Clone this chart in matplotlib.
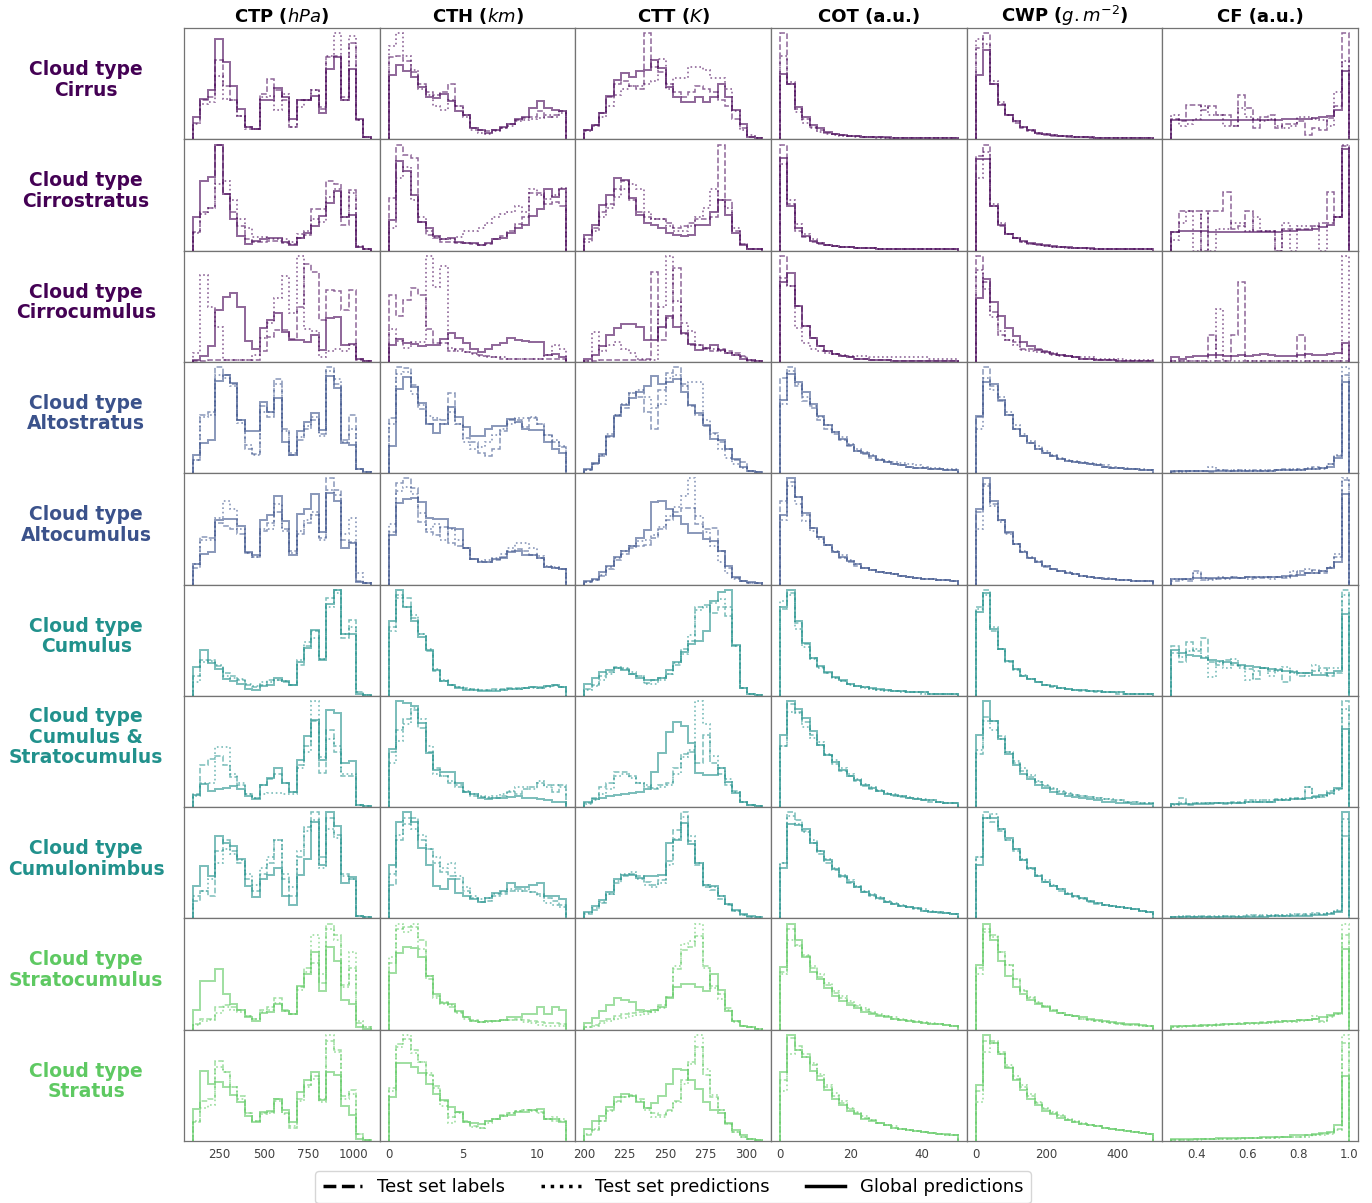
import numpy as np
import matplotlib
matplotlib.use('Agg')
import matplotlib.pyplot as plt
from matplotlib.lines import Line2D

# ---------------- layout / categories ----------------
row_keys = ['ci', 'cs', 'cc', 'ast', 'ac', 'cu', 'cusc', 'cb', 'sc', 'st']
row_names = ['Cirrus', 'Cirrostratus', 'Cirrocumulus', 'Altostratus', 'Altocumulus',
             'Cumulus', 'Cumulus &\nStratocumulus', 'Cumulonimbus', 'Stratocumulus', 'Stratus']
row_cmap_pos = [0.0, 0.0, 0.0, 0.25, 0.25, 0.5, 0.5, 0.5, 0.75, 0.75]
col_keys = ['ctp', 'cth', 'ctt', 'cot', 'cwp', 'cf']
col_titles = [r'CTP ($hPa$)', r'CTH ($km$)', r'CTT ($K$)', 'COT (a.u.)',
              r'CWP ($g.m^{-2}$)', 'CF (a.u.)']
col_ranges = [(100, 1100), (0, 12), (200, 310), (0, 50), (0, 500), (0.3, 1.0)]
col_ticks = [[250, 500, 750, 1000], [0, 5, 10], [200, 225, 250, 275, 300],
             [0, 20, 40], [0, 200, 400], [0.4, 0.6, 0.8, 1.0]]
n_bins = 24
legend_labels = ['Test set labels', 'Test set predictions', 'Global predictions']

# ---------------- histogram heights (relative, per panel) ----------------
# Cirrus
ci_ctp_lab = [15, 35, 38, 71, 48, 35, 21, 11, 9, 41, 54, 44, 35, 11, 35, 35, 44, 27, 74, 75, 38, 86, 17, 2]
ci_ctp_pred = [14, 32, 33, 57, 36, 35, 21, 9, 9, 38, 39, 26, 41, 11, 29, 35, 44, 29, 75, 95, 35, 93, 17, 2]
ci_ctp_glob = [20, 36, 44, 90, 69, 48, 27, 11, 9, 35, 35, 46, 38, 18, 35, 35, 39, 24, 63, 74, 35, 63, 18, 2]
ci_cth_lab = [74, 75, 70, 60, 50, 42, 40, 42, 50, 30, 22, 10, 8, 7, 8, 10, 14, 17, 19, 20, 25, 20, 22, 25]
ci_cth_pred = [84, 95, 75, 62, 45, 40, 30, 26, 35, 30, 20, 8, 6, 5, 7, 10, 12, 16, 17, 18, 19, 22, 20, 24]
ci_cth_glob = [58, 67, 61, 56, 47, 38, 37, 41, 34, 25, 22, 10, 8, 6, 8, 11, 14, 18, 20, 28, 34, 28, 26, 25]
ci_ctt_lab = [8, 13, 24, 38, 50, 52, 48, 45, 95, 65, 60, 50, 42, 38, 42, 48, 45, 42, 35, 30, 18, 10, 2, 1]
ci_ctt_pred = [7, 12, 20, 30, 40, 45, 48, 48, 50, 52, 72, 45, 55, 55, 65, 65, 62, 55, 55, 45, 25, 8, 4, 1]
ci_ctt_glob = [8, 13, 24, 39, 53, 59, 56, 61, 62, 71, 64, 47, 38, 33, 33, 38, 33, 38, 50, 38, 26, 14, 2, 1]
ci_cot_lab = [96, 50, 27, 18, 11, 8, 6, 5, 4, 3, 3, 2, 2, 2, 1, 1, 1, 1, 1, 1, 1, 1, 1, 1]
ci_cot_pred = [75, 52, 25, 15, 10, 7, 5, 4, 3, 3, 2, 2, 2, 1, 1, 1, 1, 1, 1, 1, 1, 1, 1, 1]
ci_cot_glob = [59, 50, 29, 20, 13, 10, 7, 5, 4, 3, 3, 2, 2, 2, 2, 1, 1, 1, 1, 1, 1, 1, 1, 1]
ci_cwp_lab = [82, 95, 50, 32, 22, 15, 10, 7, 5, 4, 3, 3, 2, 2, 2, 1, 1, 1, 1, 1, 1, 1, 1, 1]
ci_cwp_pred = [90, 85, 52, 33, 22, 16, 11, 8, 6, 5, 4, 3, 3, 2, 2, 2, 1, 1, 1, 1, 1, 1, 1, 1]
ci_cwp_glob = [58, 80, 50, 31, 22, 16, 11, 8, 6, 5, 4, 3, 3, 2, 2, 2, 1, 1, 1, 1, 1, 1, 1, 1]
ci_cf_lab = [18, 16, 31, 31, 26, 30, 22, 22, 12, 40, 28, 10, 20, 22, 10, 14, 14, 16, 4, 10, 8, 19, 30, 95]
ci_cf_pred = [22, 12, 14, 18, 30, 22, 22, 12, 12, 28, 20, 18, 16, 18, 12, 10, 12, 20, 20, 18, 17, 12, 42, 70]
ci_cf_glob = [17, 17, 17, 17, 17, 17, 17, 17, 17, 17, 17, 17, 17, 17, 17, 18, 18, 18, 18, 19, 20, 21, 26, 61]
# Cirrostratus
cs_ctp_lab = [17, 35, 38, 95, 51, 35, 22, 10, 8, 8, 9, 9, 7, 6, 11, 14, 37, 37, 62, 60, 23, 54, 3, 1]
cs_ctp_pred = [16, 33, 38, 60, 62, 45, 28, 20, 12, 12, 10, 10, 10, 8, 15, 18, 28, 26, 48, 55, 30, 52, 4, 1]
cs_ctp_glob = [30, 62, 66, 95, 51, 28, 13, 6, 9, 10, 11, 11, 8, 5, 11, 16, 22, 31, 43, 53, 30, 32, 3, 1]
cs_cth_lab = [47, 95, 86, 83, 26, 14, 11, 8, 8, 7, 7, 6, 5, 6, 10, 13, 18, 24, 30, 52, 52, 42, 44, 40]
cs_cth_pred = [20, 65, 75, 45, 30, 18, 12, 10, 10, 12, 18, 18, 20, 25, 30, 33, 35, 40, 35, 55, 50, 46, 50, 56]
cs_cth_glob = [27, 80, 71, 50, 26, 20, 13, 10, 11, 8, 7, 7, 5, 7, 10, 11, 16, 20, 23, 31, 37, 55, 48, 55]
cs_ctt_lab = [10, 20, 35, 42, 55, 62, 45, 35, 30, 28, 28, 25, 20, 22, 25, 28, 28, 30, 95, 45, 18, 6, 1, 1]
cs_ctt_pred = [8, 18, 30, 38, 48, 55, 60, 55, 35, 28, 28, 22, 18, 18, 22, 30, 38, 55, 45, 38, 20, 6, 1, 1]
cs_ctt_glob = [14, 23, 41, 50, 65, 63, 47, 32, 25, 23, 20, 16, 14, 13, 14, 23, 23, 35, 45, 32, 16, 5, 1, 1]
cs_cot_lab = [95, 42, 18, 12, 8, 6, 5, 4, 3, 3, 2, 2, 2, 1, 1, 1, 1, 1, 1, 1, 1, 1, 1, 1]
cs_cot_pred = [78, 45, 24, 15, 10, 7, 5, 4, 3, 3, 2, 2, 2, 1, 1, 1, 1, 1, 1, 1, 1, 1, 1, 1]
cs_cot_glob = [83, 40, 20, 13, 9, 7, 5, 4, 3, 3, 2, 2, 2, 1, 1, 1, 1, 1, 1, 1, 1, 1, 1, 1]
cs_cwp_lab = [85, 95, 40, 22, 15, 11, 8, 6, 5, 4, 3, 3, 2, 2, 2, 1, 1, 1, 1, 1, 1, 1, 1, 1]
cs_cwp_pred = [65, 88, 42, 25, 15, 11, 8, 6, 5, 4, 3, 3, 2, 2, 2, 1, 1, 1, 1, 1, 1, 1, 1, 1]
cs_cwp_glob = [82, 82, 40, 23, 15, 11, 9, 7, 6, 5, 4, 3, 3, 2, 2, 2, 1, 1, 1, 1, 1, 1, 1, 1]
cs_cf_lab = [17, 36, 36, 36, 0, 36, 36, 53, 20, 22, 36, 18, 18, 18, 0, 20, 20, 20, 20, 22, 25, 53, 30, 95]
cs_cf_pred = [10, 25, 36, 0, 36, 0, 20, 20, 25, 25, 18, 30, 18, 18, 0, 25, 0, 22, 22, 22, 0, 25, 30, 96]
cs_cf_glob = [17, 18, 18, 18, 18, 17, 17, 17, 17, 17, 17, 17, 17, 17, 17, 18, 18, 19, 19, 20, 21, 23, 30, 92]
# Cirrocumulus
cc_ctp_lab = [1, 1, 2, 2, 2, 2, 2, 2, 2, 10, 23, 29, 29, 21, 50, 89, 81, 38, 65, 64, 47, 65, 3, 1]
cc_ctp_pred = [8, 79, 50, 32, 2, 2, 2, 2, 6, 22, 35, 58, 78, 44, 96, 30, 28, 4, 10, 12, 10, 15, 2, 1]
cc_ctp_glob = [2, 5, 14, 47, 59, 62, 50, 19, 12, 31, 38, 44, 27, 20, 20, 18, 24, 11, 40, 41, 15, 16, 3, 1]
cc_cth_lab = [61, 42, 56, 67, 61, 30, 17, 17, 10, 12, 9, 8, 6, 5, 4, 3, 3, 3, 3, 3, 3, 3, 3, 3]
cc_cth_pred = [30, 19, 13, 18, 18, 96, 68, 87, 13, 10, 9, 7, 5, 4, 4, 4, 3, 3, 3, 3, 3, 6, 15, 12]
cc_cth_glob = [15, 21, 17, 16, 14, 15, 15, 21, 26, 22, 17, 12, 9, 12, 15, 17, 22, 20, 19, 18, 18, 6, 7, 4]
cc_ctt_lab = [1, 1, 2, 2, 2, 2, 2, 2, 3, 81, 20, 40, 85, 25, 15, 15, 12, 10, 12, 10, 8, 5, 1, 1]
cc_ctt_pred = [1, 27, 10, 15, 18, 12, 8, 3, 2, 2, 50, 96, 55, 35, 28, 15, 13, 12, 10, 8, 6, 4, 2, 1]
cc_ctt_glob = [3, 6, 14, 24, 31, 34, 34, 32, 20, 20, 32, 42, 32, 26, 16, 11, 13, 15, 11, 8, 6, 3, 2, 1]
cc_cot_lab = [95, 68, 50, 32, 21, 14, 10, 7, 5, 4, 3, 3, 2, 2, 2, 1, 1, 1, 1, 1, 1, 1, 1, 1]
cc_cot_pred = [75, 68, 30, 17, 12, 10, 8, 7, 6, 5, 5, 5, 4, 4, 4, 4, 4, 4, 4, 4, 3, 3, 3, 3]
cc_cot_glob = [72, 80, 50, 32, 21, 14, 10, 7, 5, 4, 3, 3, 2, 2, 2, 1, 1, 1, 1, 1, 1, 1, 1, 1]
cc_cwp_lab = [95, 72, 45, 24, 20, 18, 12, 12, 12, 10, 8, 6, 5, 4, 3, 3, 2, 2, 2, 1, 1, 1, 1, 1]
cc_cwp_pred = [82, 65, 40, 28, 20, 15, 11, 10, 9, 8, 6, 5, 5, 4, 4, 4, 3, 3, 3, 3, 2, 2, 2, 2]
cc_cwp_glob = [57, 74, 54, 41, 30, 23, 18, 14, 11, 9, 7, 6, 5, 4, 3, 3, 2, 2, 2, 1, 1, 1, 1, 1]
cc_cf_lab = [1, 1, 1, 1, 1, 24, 1, 1, 24, 72, 1, 1, 1, 1, 1, 1, 1, 24, 1, 1, 1, 1, 1, 1]
cc_cf_pred = [1, 1, 1, 1, 1, 1, 48, 1, 1, 1, 1, 1, 1, 1, 1, 1, 1, 1, 1, 1, 1, 1, 1, 96]
cc_cf_glob = [4, 3, 4, 5, 5, 6, 6, 5, 5, 6, 5, 6, 7, 6, 5, 5, 5, 6, 7, 6, 6, 7, 8, 17]
# Altostratus
ast_ctp_lab = [12, 52, 55, 95, 88, 80, 48, 22, 17, 60, 50, 84, 40, 16, 30, 40, 48, 35, 95, 80, 30, 52, 4, 1]
ast_ctp_pred = [12, 50, 52, 88, 85, 78, 45, 25, 16, 55, 55, 80, 38, 18, 32, 42, 50, 33, 92, 84, 28, 40, 4, 1]
ast_ctp_glob = [16, 27, 30, 83, 88, 81, 48, 38, 38, 64, 55, 67, 28, 16, 38, 46, 54, 39, 87, 76, 27, 25, 4, 1]
ast_cth_lab = [50, 96, 95, 80, 58, 45, 48, 48, 73, 45, 32, 28, 18, 16, 22, 38, 48, 48, 42, 50, 45, 35, 28, 24]
ast_cth_pred = [45, 90, 92, 72, 62, 52, 50, 45, 55, 45, 28, 22, 24, 28, 35, 40, 45, 50, 50, 51, 45, 35, 30, 25]
ast_cth_glob = [25, 76, 87, 78, 64, 45, 36, 45, 60, 51, 42, 34, 34, 40, 43, 43, 49, 46, 40, 39, 39, 28, 22, 18]
ast_ctt_lab = [3, 8, 15, 32, 52, 58, 72, 68, 55, 40, 75, 90, 95, 80, 60, 52, 42, 36, 28, 22, 12, 10, 2, 1]
ast_ctt_pred = [3, 8, 16, 35, 52, 62, 72, 75, 68, 58, 62, 85, 88, 78, 82, 82, 48, 35, 22, 14, 8, 5, 2, 1]
ast_ctt_glob = [4, 9, 17, 33, 51, 61, 67, 73, 78, 87, 80, 82, 84, 73, 61, 54, 43, 31, 30, 22, 13, 6, 2, 1]
ast_cot_lab = [85, 95, 78, 65, 58, 48, 40, 35, 30, 24, 20, 17, 14, 12, 10, 8, 7, 6, 5, 5, 4, 4, 3, 3]
ast_cot_pred = [62, 92, 80, 68, 60, 50, 43, 37, 32, 26, 22, 19, 16, 13, 11, 10, 9, 8, 7, 6, 5, 5, 4, 4]
ast_cot_glob = [66, 89, 82, 73, 62, 51, 43, 37, 31, 25, 20, 18, 15, 12, 10, 8, 7, 6, 5, 5, 4, 4, 3, 3]
ast_cwp_lab = [50, 95, 78, 65, 52, 40, 33, 27, 22, 18, 15, 13, 11, 10, 9, 8, 7, 6, 5, 5, 4, 4, 3, 3]
ast_cwp_pred = [40, 85, 75, 68, 55, 43, 35, 29, 24, 20, 16, 14, 12, 11, 10, 9, 8, 7, 6, 5, 5, 4, 4, 3]
ast_cwp_glob = [51, 82, 80, 66, 52, 40, 33, 27, 22, 18, 15, 13, 11, 10, 9, 8, 7, 6, 5, 5, 4, 4, 3, 3]
ast_cf_lab = [1, 2, 2, 2, 2, 1, 3, 3, 2, 3, 2, 3, 2, 3, 3, 4, 3, 4, 4, 6, 5, 8, 15, 88]
ast_cf_pred = [2, 1, 2, 2, 2, 6, 3, 2, 3, 2, 3, 2, 3, 2, 3, 3, 4, 3, 5, 4, 4, 8, 16, 95]
ast_cf_glob = [2, 2, 2, 2, 2, 2, 2, 2, 2, 2, 2, 2, 2, 2, 3, 3, 3, 3, 4, 4, 5, 6, 14, 82]
# Altocumulus
ac_ctp_lab = [15, 43, 42, 55, 52, 50, 45, 28, 25, 48, 55, 65, 50, 30, 45, 55, 62, 42, 95, 85, 40, 38, 3, 1]
ac_ctp_pred = [18, 40, 40, 60, 75, 68, 50, 28, 25, 50, 50, 72, 48, 28, 48, 58, 65, 40, 85, 80, 45, 60, 10, 1]
ac_ctp_glob = [18, 27, 29, 58, 59, 59, 52, 29, 26, 58, 62, 79, 57, 26, 63, 68, 81, 47, 82, 75, 33, 37, 2, 1]
ac_cth_lab = [48, 92, 96, 87, 57, 48, 45, 52, 38, 35, 33, 23, 20, 20, 22, 25, 30, 32, 30, 27, 24, 16, 15, 14]
ac_cth_pred = [55, 85, 88, 82, 65, 50, 55, 40, 50, 40, 33, 23, 21, 22, 24, 28, 33, 38, 38, 33, 26, 17, 16, 14]
ac_cth_glob = [45, 74, 77, 78, 75, 60, 59, 59, 51, 50, 33, 23, 20, 20, 23, 24, 29, 30, 27, 27, 24, 16, 15, 14]
ac_ctt_lab = [2, 4, 8, 14, 22, 28, 33, 35, 36, 42, 50, 58, 66, 69, 69, 55, 50, 51, 30, 15, 6, 3, 1, 1]
ac_ctt_pred = [2, 4, 9, 16, 24, 30, 35, 39, 40, 45, 52, 62, 70, 80, 96, 62, 48, 35, 20, 10, 5, 3, 1, 1]
ac_ctt_glob = [3, 5, 11, 17, 25, 30, 35, 42, 49, 75, 76, 68, 62, 55, 47, 47, 41, 39, 30, 17, 7, 3, 2, 1]
ac_cot_lab = [75, 92, 78, 62, 51, 43, 35, 29, 24, 20, 17, 15, 13, 11, 10, 9, 8, 7, 6, 5, 5, 4, 4, 3]
ac_cot_pred = [58, 88, 72, 57, 48, 41, 35, 30, 26, 22, 18, 15, 13, 11, 10, 9, 8, 7, 6, 5, 5, 4, 4, 3]
ac_cot_glob = [62, 95, 78, 64, 51, 43, 35, 29, 25, 21, 18, 15, 13, 11, 10, 9, 8, 7, 6, 5, 5, 4, 4, 3]
ac_cwp_lab = [65, 90, 72, 58, 46, 36, 29, 24, 20, 16, 14, 12, 10, 9, 8, 7, 6, 5, 5, 4, 4, 3, 3, 3]
ac_cwp_pred = [50, 88, 70, 56, 45, 36, 30, 25, 21, 17, 14, 12, 11, 9, 8, 7, 6, 6, 5, 4, 4, 3, 3, 3]
ac_cwp_glob = [68, 95, 75, 58, 47, 36, 29, 24, 20, 17, 14, 12, 10, 9, 8, 7, 6, 5, 5, 4, 4, 3, 3, 3]
ac_cf_lab = [3, 5, 3, 12, 4, 5, 5, 6, 7, 6, 7, 6, 6, 7, 7, 6, 9, 12, 10, 13, 10, 15, 25, 95]
ac_cf_pred = [5, 4, 5, 10, 6, 4, 7, 5, 7, 6, 5, 7, 7, 5, 7, 7, 12, 10, 14, 10, 12, 16, 28, 96]
ac_cf_glob = [5, 5, 5, 6, 6, 6, 6, 6, 6, 6, 7, 7, 7, 7, 7, 8, 8, 9, 10, 10, 12, 15, 20, 82]
# Cumulus
cu_ctp_lab = [18, 32, 32, 27, 20, 18, 14, 10, 8, 10, 14, 14, 12, 10, 28, 45, 58, 33, 88, 95, 52, 68, 3, 1]
cu_ctp_pred = [12, 30, 31, 28, 18, 16, 15, 11, 9, 12, 12, 14, 13, 10, 32, 48, 52, 33, 80, 92, 55, 62, 3, 1]
cu_ctp_glob = [26, 41, 29, 24, 15, 13, 11, 6, 5, 9, 10, 16, 13, 10, 30, 43, 59, 32, 82, 95, 55, 55, 2, 1]
cu_cth_lab = [62, 90, 88, 70, 55, 40, 22, 13, 10, 8, 7, 6, 5, 5, 6, 6, 7, 7, 7, 8, 8, 9, 10, 8]
cu_cth_pred = [58, 88, 80, 72, 55, 42, 24, 14, 10, 8, 6, 5, 5, 5, 5, 5, 6, 6, 7, 7, 7, 8, 9, 8]
cu_cth_glob = [67, 95, 80, 67, 53, 41, 23, 13, 10, 7, 5, 5, 4, 4, 4, 5, 6, 6, 7, 8, 7, 9, 10, 8]
cu_ctt_lab = [6, 10, 18, 22, 26, 24, 20, 18, 12, 14, 16, 20, 28, 42, 50, 80, 82, 75, 80, 72, 45, 7, 2, 1]
cu_ctt_pred = [5, 9, 14, 20, 25, 25, 22, 18, 11, 11, 14, 20, 30, 38, 55, 78, 80, 84, 88, 80, 45, 7, 2, 1]
cu_ctt_glob = [11, 16, 22, 23, 25, 23, 20, 16, 14, 14, 16, 23, 31, 40, 47, 50, 59, 86, 94, 96, 46, 7, 2, 1]
cu_cot_lab = [78, 92, 65, 46, 34, 26, 20, 16, 13, 11, 9, 8, 6, 5, 5, 4, 4, 3, 3, 3, 2, 2, 2, 2]
cu_cot_pred = [85, 90, 60, 44, 33, 25, 20, 16, 13, 10, 9, 7, 6, 5, 4, 4, 3, 3, 3, 2, 2, 2, 2, 2]
cu_cot_glob = [80, 95, 67, 47, 34, 27, 21, 17, 14, 11, 9, 8, 7, 6, 5, 4, 4, 3, 3, 3, 2, 2, 2, 2]
cu_cwp_lab = [80, 95, 58, 42, 30, 23, 18, 15, 12, 10, 8, 7, 6, 5, 4, 4, 3, 3, 3, 2, 2, 2, 2, 2]
cu_cwp_pred = [78, 90, 62, 42, 31, 24, 19, 15, 12, 10, 9, 7, 6, 5, 5, 4, 4, 3, 3, 3, 2, 2, 2, 2]
cu_cwp_glob = [75, 92, 60, 42, 31, 24, 18, 15, 12, 10, 9, 7, 6, 5, 5, 4, 4, 3, 3, 3, 2, 2, 2, 2]
cu_cf_lab = [45, 30, 48, 40, 52, 30, 28, 32, 28, 27, 24, 15, 25, 22, 24, 12, 22, 18, 20, 22, 25, 18, 20, 95]
cu_cf_pred = [38, 35, 40, 42, 35, 17, 30, 25, 33, 25, 14, 22, 25, 18, 22, 26, 20, 20, 18, 28, 20, 25, 25, 90]
cu_cf_glob = [41, 38, 37, 36, 34, 32, 31, 30, 29, 28, 27, 26, 25, 24, 23, 22, 21, 20, 20, 19, 19, 20, 22, 73]
# Cumulus & Stratocumulus
cusc_ctp_lab = [12, 38, 44, 46, 38, 27, 20, 12, 8, 20, 25, 30, 22, 14, 38, 55, 78, 31, 70, 50, 28, 28, 2, 1]
cusc_ctp_pred = [10, 22, 22, 54, 54, 30, 22, 12, 8, 12, 13, 13, 12, 12, 35, 50, 96, 45, 62, 55, 30, 30, 2, 1]
cusc_ctp_glob = [11, 21, 15, 16, 17, 19, 16, 10, 7, 20, 26, 35, 22, 14, 43, 64, 79, 43, 88, 85, 40, 42, 2, 1]
cusc_cth_lab = [50, 70, 80, 88, 72, 50, 35, 28, 22, 18, 14, 10, 9, 8, 8, 10, 14, 12, 16, 18, 22, 20, 14, 20]
cusc_cth_pred = [40, 60, 75, 90, 80, 55, 30, 28, 24, 20, 15, 12, 10, 9, 10, 12, 15, 18, 18, 16, 24, 18, 20, 18]
cusc_cth_glob = [53, 96, 94, 92, 76, 49, 34, 32, 32, 22, 14, 12, 8, 7, 8, 8, 9, 10, 8, 8, 7, 6, 5, 5]
cusc_ctt_lab = [4, 8, 18, 22, 32, 32, 28, 22, 18, 16, 20, 22, 35, 48, 50, 40, 65, 40, 30, 20, 15, 5, 2, 1]
cusc_ctt_pred = [3, 6, 12, 16, 28, 30, 26, 22, 20, 17, 18, 20, 30, 45, 52, 96, 75, 46, 35, 25, 14, 5, 2, 1]
cusc_ctt_glob = [5, 7, 8, 10, 11, 12, 13, 14, 16, 32, 49, 68, 77, 73, 58, 31, 29, 29, 35, 23, 13, 5, 2, 1]
cusc_cot_lab = [55, 92, 85, 76, 65, 56, 47, 39, 32, 28, 23, 19, 16, 14, 12, 10, 9, 8, 7, 6, 5, 5, 4, 4]
cusc_cot_pred = [55, 85, 84, 72, 62, 58, 48, 42, 35, 30, 25, 21, 18, 15, 13, 12, 10, 9, 8, 7, 6, 5, 4, 4]
cusc_cot_glob = [65, 95, 88, 80, 68, 56, 47, 40, 33, 28, 24, 20, 17, 14, 12, 11, 10, 8, 7, 6, 6, 5, 4, 4]
cusc_cwp_lab = [48, 82, 78, 64, 50, 40, 33, 27, 23, 19, 16, 14, 12, 11, 10, 9, 8, 7, 6, 6, 5, 5, 4, 4]
cusc_cwp_pred = [52, 78, 70, 62, 50, 42, 35, 29, 24, 20, 17, 15, 13, 11, 10, 9, 8, 7, 7, 6, 5, 5, 4, 4]
cusc_cwp_glob = [65, 96, 78, 62, 48, 38, 30, 25, 20, 17, 14, 12, 10, 9, 8, 7, 6, 5, 5, 4, 4, 3, 3, 3]
cusc_cf_lab = [3, 8, 2, 4, 4, 3, 4, 3, 5, 4, 6, 5, 6, 5, 7, 6, 8, 7, 18, 10, 9, 14, 16, 95]
cusc_cf_pred = [2, 4, 3, 4, 4, 4, 4, 4, 4, 5, 5, 6, 5, 6, 6, 7, 7, 8, 18, 8, 10, 12, 15, 88]
cusc_cf_glob = [3, 3, 3, 3, 3, 4, 4, 4, 4, 4, 5, 5, 5, 5, 6, 6, 7, 7, 8, 9, 11, 13, 17, 70]
# Cumulonimbus
cb_ctp_lab = [16, 25, 20, 60, 70, 60, 50, 35, 25, 40, 50, 70, 35, 20, 55, 82, 95, 55, 90, 75, 40, 35, 2, 1]
cb_ctp_pred = [20, 25, 35, 50, 62, 58, 52, 40, 30, 45, 55, 70, 40, 28, 60, 78, 88, 45, 80, 72, 38, 35, 2, 1]
cb_ctp_glob = [29, 47, 38, 74, 68, 65, 53, 29, 19, 35, 39, 45, 20, 12, 39, 53, 86, 48, 95, 83, 32, 37, 2, 1]
cb_cth_lab = [30, 70, 85, 90, 70, 62, 50, 42, 38, 35, 25, 18, 15, 16, 20, 22, 25, 26, 25, 24, 22, 18, 16, 12]
cb_cth_pred = [40, 75, 90, 80, 75, 62, 55, 45, 50, 38, 28, 20, 17, 18, 22, 24, 26, 25, 26, 24, 20, 14, 12, 10]
cb_cth_glob = [48, 86, 95, 86, 63, 48, 29, 26, 35, 23, 20, 17, 15, 18, 23, 25, 32, 28, 28, 30, 32, 20, 20, 17]
cb_ctt_lab = [4, 8, 14, 22, 32, 38, 40, 38, 33, 30, 35, 52, 80, 96, 70, 48, 28, 26, 18, 12, 7, 3, 1, 1]
cb_ctt_pred = [5, 9, 15, 22, 34, 40, 42, 36, 30, 28, 32, 48, 72, 92, 75, 50, 30, 28, 20, 13, 7, 3, 1, 1]
cb_ctt_glob = [6, 11, 17, 24, 36, 39, 39, 37, 38, 38, 39, 68, 71, 86, 67, 50, 30, 29, 20, 13, 8, 4, 2, 1]
cb_cot_lab = [50, 95, 88, 78, 68, 58, 50, 43, 37, 32, 28, 24, 20, 17, 15, 13, 11, 10, 8, 7, 6, 5, 5, 4]
cb_cot_pred = [50, 92, 85, 77, 70, 60, 53, 45, 39, 34, 29, 25, 22, 19, 16, 14, 12, 10, 9, 8, 7, 6, 5, 4]
cb_cot_glob = [45, 85, 84, 80, 68, 60, 52, 44, 38, 33, 28, 24, 21, 18, 15, 13, 11, 10, 9, 7, 6, 6, 5, 4]
cb_cwp_lab = [55, 95, 86, 78, 70, 60, 52, 44, 38, 33, 29, 25, 22, 19, 17, 15, 13, 12, 11, 10, 9, 8, 7, 6]
cb_cwp_pred = [55, 90, 94, 80, 70, 62, 53, 45, 39, 34, 30, 26, 23, 20, 18, 16, 14, 12, 11, 10, 9, 8, 7, 6]
cb_cwp_glob = [48, 90, 90, 80, 72, 62, 52, 45, 38, 33, 29, 26, 22, 20, 18, 16, 14, 12, 11, 10, 9, 8, 7, 6]
cb_cf_lab = [1, 1, 2, 1, 2, 1, 1, 2, 2, 1, 2, 3, 2, 2, 3, 2, 3, 4, 3, 5, 4, 5, 7, 75]
cb_cf_pred = [1, 2, 1, 2, 1, 2, 2, 2, 1, 2, 3, 2, 3, 3, 2, 3, 4, 3, 4, 4, 4, 5, 8, 90]
cb_cf_glob = [1, 1, 1, 1, 1, 1, 1, 1, 1, 1, 1, 1, 1, 2, 2, 2, 2, 2, 2, 3, 3, 4, 6, 96]
# Stratocumulus
sc_ctp_lab = [5, 10, 10, 20, 22, 20, 18, 12, 10, 18, 20, 28, 18, 14, 38, 55, 60, 42, 95, 85, 40, 55, 6, 2]
sc_ctp_pred = [4, 8, 9, 15, 20, 18, 16, 12, 10, 16, 18, 24, 17, 14, 36, 52, 85, 50, 90, 80, 38, 70, 8, 2]
sc_ctp_glob = [18, 44, 44, 54, 32, 23, 18, 11, 8, 15, 16, 23, 17, 14, 39, 50, 70, 35, 74, 62, 27, 23, 2, 1]
sc_cth_lab = [60, 90, 92, 92, 80, 45, 30, 25, 20, 16, 11, 9, 7, 8, 8, 9, 9, 10, 9, 8, 7, 6, 6, 5]
sc_cth_pred = [65, 95, 88, 95, 72, 48, 28, 23, 22, 15, 10, 8, 7, 7, 8, 9, 9, 9, 7, 6, 4, 3, 3, 3]
sc_cth_glob = [51, 69, 74, 73, 65, 48, 32, 24, 23, 17, 11, 8, 7, 8, 8, 9, 11, 11, 14, 14, 20, 14, 20, 18]
sc_ctt_lab = [2, 4, 8, 10, 12, 14, 15, 16, 16, 18, 22, 30, 55, 72, 75, 85, 58, 40, 32, 20, 8, 3, 2, 1]
sc_ctt_pred = [2, 3, 6, 8, 10, 11, 12, 13, 14, 16, 20, 30, 58, 78, 80, 96, 56, 38, 28, 18, 7, 3, 2, 1]
sc_ctt_glob = [6, 11, 17, 22, 29, 27, 25, 18, 17, 18, 21, 29, 39, 41, 41, 39, 35, 50, 36, 17, 8, 3, 2, 1]
sc_cot_lab = [52, 90, 76, 66, 55, 47, 40, 33, 28, 24, 21, 18, 15, 13, 12, 10, 9, 8, 7, 6, 5, 5, 4, 3]
sc_cot_pred = [50, 80, 75, 67, 57, 50, 42, 35, 30, 26, 22, 19, 16, 14, 12, 11, 10, 9, 8, 7, 6, 5, 4, 3]
sc_cot_glob = [56, 95, 80, 65, 52, 45, 37, 30, 26, 22, 19, 16, 14, 12, 11, 10, 9, 8, 7, 6, 5, 5, 4, 3]
sc_cwp_lab = [55, 90, 85, 70, 58, 45, 35, 28, 24, 21, 18, 15, 13, 12, 10, 9, 8, 7, 6, 5, 4, 4, 3, 3]
sc_cwp_pred = [50, 88, 83, 70, 58, 45, 36, 29, 25, 21, 18, 15, 13, 12, 10, 9, 8, 7, 6, 5, 4, 4, 3, 3]
sc_cwp_glob = [58, 95, 80, 62, 48, 38, 32, 27, 23, 20, 17, 15, 13, 12, 11, 10, 9, 8, 7, 6, 5, 5, 4, 3]
sc_cf_lab = [2, 3, 3, 4, 3, 4, 5, 5, 5, 6, 6, 6, 7, 7, 8, 8, 8, 9, 9, 10, 8, 12, 14, 85]
sc_cf_pred = [2, 2, 3, 3, 3, 3, 4, 4, 5, 5, 5, 5, 6, 6, 7, 7, 7, 8, 9, 12, 7, 11, 14, 95]
sc_cf_glob = [3, 3, 3, 3, 4, 4, 4, 5, 5, 5, 6, 6, 6, 7, 7, 8, 8, 9, 9, 10, 11, 13, 15, 72]
# Stratus
st_ctp_lab = [17, 36, 38, 72, 62, 48, 40, 25, 18, 25, 26, 38, 25, 12, 38, 50, 58, 38, 90, 82, 40, 46, 6, 1]
st_ctp_pred = [18, 30, 32, 66, 62, 48, 38, 25, 18, 24, 25, 36, 24, 13, 36, 48, 56, 35, 95, 80, 38, 42, 6, 1]
st_ctp_glob = [29, 63, 51, 53, 48, 41, 35, 22, 17, 26, 27, 38, 28, 17, 44, 55, 62, 37, 62, 59, 31, 23, 2, 1]
st_cth_lab = [48, 88, 92, 82, 72, 60, 50, 36, 22, 26, 18, 14, 12, 18, 20, 24, 25, 27, 28, 28, 26, 20, 18, 18]
st_cth_pred = [45, 85, 96, 80, 72, 62, 48, 32, 16, 25, 17, 13, 12, 16, 20, 23, 25, 27, 28, 27, 25, 20, 22, 20]
st_cth_glob = [40, 71, 71, 67, 62, 52, 43, 37, 31, 26, 17, 16, 15, 18, 20, 23, 24, 26, 26, 28, 29, 20, 20, 17]
st_ctt_lab = [5, 10, 18, 28, 36, 40, 42, 38, 30, 25, 24, 28, 36, 55, 72, 85, 60, 40, 28, 15, 8, 4, 2, 1]
st_ctt_pred = [6, 11, 18, 27, 35, 40, 41, 36, 28, 22, 22, 27, 35, 52, 70, 96, 65, 42, 28, 15, 8, 4, 2, 1]
st_ctt_glob = [11, 18, 23, 31, 40, 43, 41, 35, 30, 34, 41, 52, 65, 64, 55, 47, 35, 28, 25, 16, 10, 5, 2, 1]
st_cot_lab = [55, 92, 85, 78, 68, 58, 48, 40, 34, 29, 25, 21, 19, 16, 14, 12, 11, 10, 9, 8, 7, 6, 5, 5]
st_cot_pred = [45, 78, 82, 75, 70, 60, 50, 43, 36, 30, 26, 22, 19, 16, 14, 13, 11, 10, 9, 8, 7, 6, 5, 5]
st_cot_glob = [62, 95, 82, 75, 63, 55, 46, 38, 32, 27, 24, 20, 18, 16, 14, 12, 11, 10, 9, 8, 7, 6, 6, 5]
st_cwp_lab = [45, 90, 90, 80, 66, 56, 48, 40, 34, 29, 25, 22, 19, 17, 15, 14, 13, 12, 11, 10, 9, 8, 7, 6]
st_cwp_pred = [35, 80, 88, 78, 68, 58, 50, 42, 35, 30, 26, 23, 20, 18, 16, 14, 13, 12, 11, 10, 9, 8, 7, 6]
st_cwp_glob = [50, 95, 88, 78, 65, 55, 46, 38, 32, 27, 24, 21, 19, 17, 15, 14, 13, 12, 11, 10, 9, 8, 7, 6]
st_cf_lab = [1, 1, 1, 2, 2, 2, 2, 2, 2, 3, 3, 3, 3, 3, 4, 4, 4, 4, 5, 5, 6, 7, 11, 88]
st_cf_pred = [1, 1, 1, 1, 2, 2, 2, 2, 2, 2, 3, 3, 3, 3, 3, 4, 4, 4, 4, 5, 5, 6, 10, 95]
st_cf_glob = [2, 2, 2, 2, 2, 2, 3, 3, 3, 3, 3, 3, 4, 4, 4, 4, 5, 5, 5, 6, 7, 8, 14, 58]

# ---------------- figure ----------------
W, H = 1372, 1203
fig, axes = plt.subplots(len(row_keys), len(col_keys), figsize=(W / 100, H / 100), dpi=100)
fig.subplots_adjust(left=184 / W, right=1358 / W, top=1 - 28 / H, bottom=1 - 1141 / H,
                    wspace=0, hspace=0)

cmap = plt.get_cmap('viridis')
series_kinds = ['lab', 'pred', 'glob']
series_styles = [dict(linestyle='--', lw=1.1), dict(linestyle=':', lw=1.2), dict(linestyle='-', lw=1.4)]
data_ns = globals()

for i, rk in enumerate(row_keys):
    color = cmap(row_cmap_pos[i])
    for j, ck in enumerate(col_keys):
        ax = axes[i, j]
        lo, hi = col_ranges[j]
        edges = np.linspace(lo, hi, n_bins + 1)
        for kind, st in zip(series_kinds, series_styles):
            vals = np.asarray(data_ns[f'{rk}_{ck}_{kind}'], dtype=float)
            ax.stairs(vals, edges, color=color, alpha=0.6, **st)
        span = hi - lo
        ax.set_xlim(lo - 0.05 * span, hi + 0.05 * span)
        ax.set_yticks([])
        for sp in ax.spines.values():
            sp.set_color('0.45')
            sp.set_linewidth(0.9)
        if i == len(row_keys) - 1:
            ax.set_xticks(col_ticks[j])
            ax.tick_params(axis='x', length=0, pad=5, labelsize=8.5, labelcolor='0.25')
        else:
            ax.set_xticks([])
        if i == 0:
            ax.set_title(col_titles[j], fontsize=13, fontweight='bold', pad=4)
        if j == 0:
            ax.text(-0.5, 0.357, 'Cloud type\n' + row_names[i], transform=ax.transAxes,
                    ha='center', va='bottom', fontsize=13.5, fontweight='bold',
                    color=cmap(row_cmap_pos[i]), linespacing=1.1)

handles = [Line2D([0], [0], color='black', linestyle='--', lw=2.5),
           Line2D([0], [0], color='black', linestyle=':', lw=2.5),
           Line2D([0], [0], color='black', linestyle='-', lw=2.5)]
fig.legend(handles, legend_labels, loc='upper center', ncol=3,
           bbox_to_anchor=(673 / W, 1 - 1171 / H), fontsize=13, handlelength=2.2,
           frameon=True, borderaxespad=0)

fig.savefig('out.png', dpi=100)
